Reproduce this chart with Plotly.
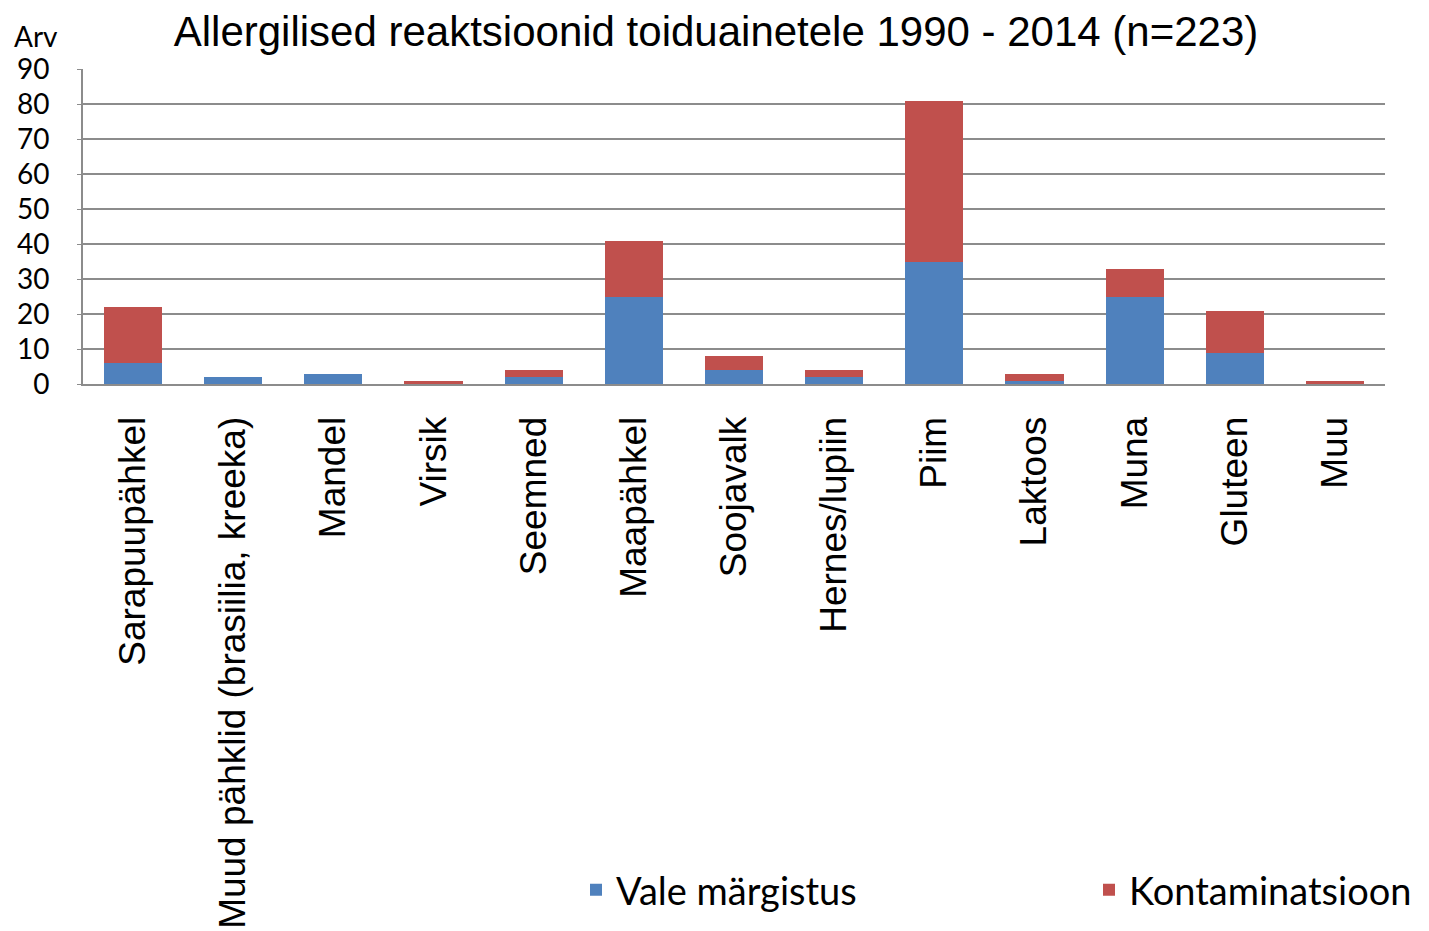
import plotly.graph_objects as go

categories = ["Sarapuupähkel", "Muud pähklid (brasiilia, kreeka)", "Mandel", "Virsik",
              "Seemned", "Maapähkel", "Soojavalk", "Hernes/lupiin", "Piim", "Laktoos",
              "Muna", "Gluteen", "Muu"]
vale_margistus = [6, 2, 3, 0, 2, 25, 4, 2, 35, 1, 25, 9, 0]
kontaminatsioon = [16, 0, 0, 1, 2, 16, 4, 2, 46, 2, 8, 12, 1]
y_ticks = [0, 10, 20, 30, 40, 50, 60, 70, 80, 90]

BLUE = "#4F81BD"
RED = "#C0504D"
GRID = "#8c8c8c"

# the page body adds an 8px offset, so figure coordinates are screen minus 8
OFF = 8
W, H = 1429, 931
L, R, T, B = 83 - OFF, 1385 - OFF, 69 - OFF, 384 - OFF
PW, PH = R - L, B - T


def px_x(x):
    return (x - OFF - L) / PW


def px_y(y):
    return (B - (y - OFF)) / PH


fig = go.Figure()
fig.add_trace(go.Bar(x=categories, y=vale_margistus, name="Vale märgistus",
                     marker=dict(color=BLUE, line=dict(width=0)), legend="legend"))
fig.add_trace(go.Bar(x=categories, y=kontaminatsioon, name="Kontaminatsioon",
                     marker=dict(color=RED, line=dict(width=0)), legend="legend2"))

legend_font = dict(family="Lato, Open Sans", size=38, color="black")

fig.update_layout(
    barmode="stack",
    bargap=0.42,
    width=W, height=H,
    margin=dict(l=L, r=W - R, t=T, b=H - B, autoexpand=False),
    paper_bgcolor="white", plot_bgcolor="white",
    title=dict(text="Allergilised reaktsioonid toiduainetele 1990 - 2014 (n=223)",
               font=dict(family="Liberation Sans, Arial", size=42, color="black"),
               x=(716 - OFF) / W, xanchor="center", xref="container",
               y=1 - (31 - OFF) / H, yref="container", yanchor="middle"),
    showlegend=True,
    legend=dict(x=px_x(576), xanchor="left", y=px_y(890), yanchor="middle",
                font=legend_font, bgcolor="rgba(0,0,0,0)"),
    legend2=dict(x=px_x(1089), xanchor="left", y=px_y(890), yanchor="middle",
                 font=legend_font, bgcolor="rgba(0,0,0,0)"),
    xaxis=dict(tickangle=-90, tickfont=dict(family="Liberation Sans, Arial", size=37, color="black"),
               showline=True, linecolor=GRID, linewidth=2, showgrid=False,
               ticks="", ticklabelstandoff=16, automargin=False),
    yaxis=dict(range=[0, 90], tickvals=y_ticks, showgrid=True, gridcolor=GRID, gridwidth=2,
               showline=True, linecolor=GRID, linewidth=2, zeroline=False,
               tickfont=dict(family="Lato, Open Sans", size=28, color="black"),
               ticks="outside", ticklen=4, tickcolor=GRID, ticklabelstandoff=22,
               automargin=False),
    annotations=[dict(text="Arv", x=px_x(36), y=px_y(36), xref="paper", yref="paper",
                      showarrow=False, xanchor="center", yanchor="middle",
                      font=dict(family="Lato, Open Sans", size=28, color="black"))],
)

fig.write_html("out.html")
